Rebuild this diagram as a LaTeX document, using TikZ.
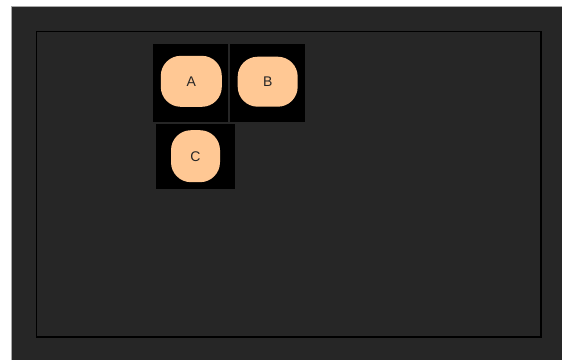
\documentclass[tikz,border=0pt]{standalone}
\usepackage{fontspec}
\setmainfont{Liberation Sans}
\definecolor{bgdark}{HTML}{262626}
\definecolor{peach}{HTML}{FFC894}
\definecolor{edgegray}{HTML}{A8A8A8}
\tikzset{
  cellbox/.style={fill=black, draw=none, inner sep=0pt},
  blob/.style={rectangle, rounded corners=20pt, fill=peach, draw=none, inner sep=0pt, font=\fontsize{14}{16}\selectfont, text=black!85},
}
\begin{document}
\begin{tikzpicture}[x=1pt,y=-1pt]
\useasboundingbox (0,0) rectangle (562,360);
\fill[white] (0,0) rectangle (562,360);
\fill[bgdark] (11,6) rectangle (562,360);
\draw[edgegray, line width=1pt] (11.5,360) -- (11.5,6.5) -- (562,6.5);
\draw[black, line width=1.6pt] (36.5,31.5) rectangle (541,337);
% cells
\node[cellbox, minimum width=75pt, minimum height=78pt] (boxA) at (190.2,82.5) {};
\node[cellbox, minimum width=75pt, minimum height=78pt] (boxB) at (267.6,82.5) {};
\node[cellbox, minimum width=79pt, minimum height=65pt] (boxC) at (195.5,156.5) {};
% blobs
\node[blob, minimum width=61pt, minimum height=51pt] (A) at (191.3,81.3) {A};
\node[blob, minimum width=60pt, minimum height=50pt] (B) at (267.7,81.7) {B};
\node[blob, minimum width=49pt, minimum height=52pt] (C) at (195.5,156.2) {C};
\end{tikzpicture}
\end{document}
